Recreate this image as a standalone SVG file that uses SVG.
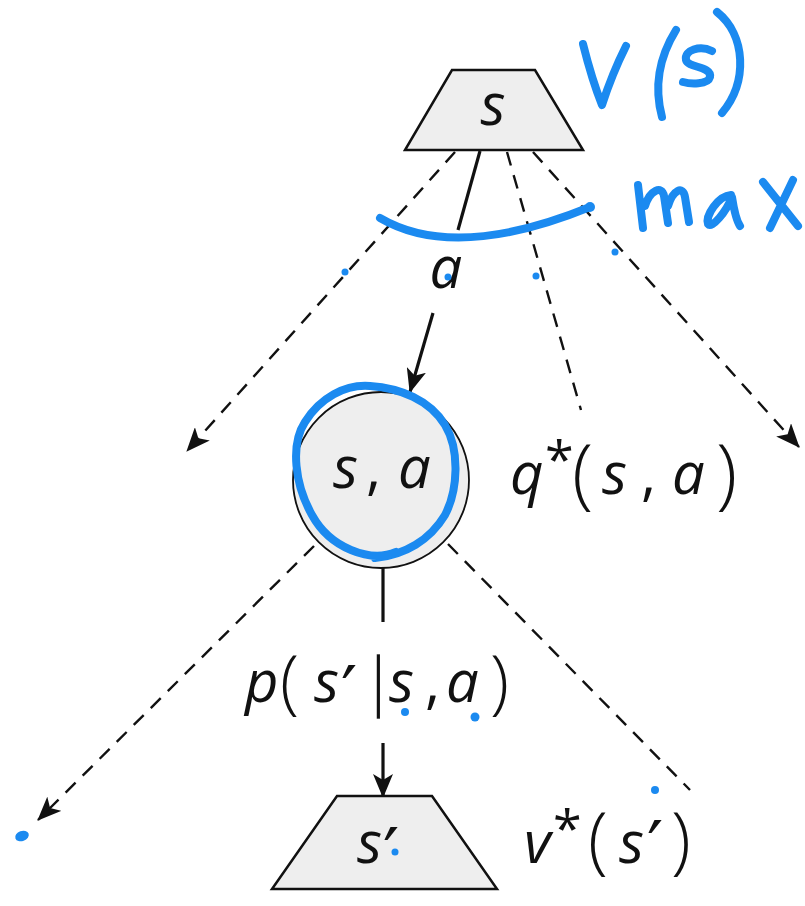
<svg xmlns="http://www.w3.org/2000/svg" width="805" height="906" viewBox="0 0 805 906">
<style>
.bg{fill:#ffffff}
.node{fill:#eeeeee;stroke:#111;stroke-width:2.5;stroke-linejoin:miter}
.circ{fill:#eeeeee;stroke:#111;stroke-width:1.8}
.dash{fill:none;stroke:#111;stroke-width:2.4;stroke-dasharray:14 10}
.solid{fill:none;stroke:#111;stroke-width:3.2}
.m{font-family:"Open Sans","Noto Sans","DejaVu Sans",sans-serif;font-style:italic;font-size:58px;fill:#111}
.up{font-style:normal}
.par{font-style:normal;font-weight:300}
.bar{font-family:"Liberation Sans",Arial,sans-serif;font-style:normal;font-size:72px;stroke:#ffffff;stroke-width:2.6}
.st{font-style:normal;font-size:52px}
.pr{font-family:"DejaVu Sans",sans-serif;font-style:normal;font-size:72px}
.ink{fill:none;stroke:#1b8af0;stroke-width:8;stroke-linecap:round;stroke-linejoin:round}
.dot{fill:#1b8af0}
</style>
<defs>
<marker id="arr" viewBox="0 0 24 20" refX="23" refY="10" markerWidth="24" markerHeight="20" markerUnits="userSpaceOnUse" orient="auto">
<path d="M0,0 L24,10 L0,20 L6,10 Z" fill="#111"/>
</marker>
</defs>
<rect class="bg" x="0" y="0" width="805" height="906"/>
<g id="connectors">
<line class="dash" x1="455" y1="152" x2="187" y2="451" marker-end="url(#arr)"/>
<line class="solid" x1="480" y1="151" x2="458" y2="230"/>
<line class="solid" x1="433" y1="313" x2="410" y2="392" marker-end="url(#arr)"/>
<line class="dash" x1="507" y1="152" x2="581" y2="410"/>
<line class="dash" x1="533" y1="152" x2="799" y2="447" marker-end="url(#arr)"/>
<line class="dash" x1="314" y1="546" x2="38" y2="820" marker-end="url(#arr)"/>
<line class="solid" x1="383" y1="568" x2="383" y2="622"/>
<line class="solid" x1="383" y1="743" x2="383" y2="797" marker-end="url(#arr)"/>
<line class="dash" x1="448" y1="544" x2="690" y2="790"/>
</g>
<g id="node-s">
<polygon class="node" points="452,70 535,70 583,150 405,150"/>
<text class="m" x="493" y="125" text-anchor="middle">s</text>
</g>
<g id="label-a">
<text class="m" x="446" y="288" text-anchor="middle">a</text>
</g>
<g id="node-sa">
<circle class="circ" cx="381" cy="480" r="88"/>
<text class="m" y="488"><tspan x="333">s</tspan><tspan class="up" x="366">,</tspan><tspan x="398">a</tspan></text>
</g>
<g id="label-q">
<text class="m" y="494"><tspan x="510">q</tspan><tspan class="st" x="545" y="478">*</tspan><tspan class="par" font-size="78" x="572" y="500">(</tspan><tspan x="602" y="494">s</tspan><tspan class="up" x="641">,</tspan><tspan x="672">a</tspan><tspan class="par" font-size="78" x="716" y="500">)</tspan></text>
</g>
<g id="label-p">
<text class="m" y="702"><tspan x="245">p</tspan><tspan class="par" font-size="70" x="280" y="706">(</tspan><tspan x="314" y="702">s</tspan><tspan class="pr" x="341" y="717">′</tspan><tspan class="bar" x="369" y="705">|</tspan><tspan x="389" y="702">s</tspan><tspan class="up" x="425">,</tspan><tspan x="446">a</tspan><tspan class="par" font-size="70" x="490" y="706">)</tspan></text>
</g>
<g id="node-s2">
<polygon class="node" points="337,796 432,796 497,889 272,889"/>
<text class="m" y="863"><tspan x="357">s</tspan><tspan class="pr" x="383" y="879">′</tspan></text>
</g>
<g id="label-v">
<text class="m" y="863"><tspan x="524">v</tspan><tspan class="st" x="553" y="847">*</tspan><tspan class="par" font-size="73" x="588" y="865">(</tspan><tspan x="619" y="863">s</tspan><tspan class="pr" x="647" y="872">′</tspan><tspan class="par" font-size="73" x="671" y="865">)</tspan></text>
</g>
<g id="annotations">
<path class="ink" d="M583,44 Q592,80 602,105 Q612,74 626,46"/>
<path class="ink" d="M676,30 Q650,72 662,117"/>
<path class="ink" d="M712,51 C700,45 684,50 686,60 C688,68 712,66 710,77 C708,85 690,84 683,82"/>
<path class="ink" d="M717,12 C746,35 748,82 722,113"/>
<path class="ink" d="M638,185 L643,228 M645,206 C650,190 662,185 664,196 L668,223 M668,206 C673,190 683,185 685,197 L689,222"/>
<path class="ink" d="M731,195 C718,196 705,216 708,224 C712,229 726,212 732,197 C734,210 736,220 740,226"/>
<path class="ink" d="M763,182 L798,226 M793,180 L770,228"/>
<path class="ink" stroke-width="7" d="M380,218 Q455,262 590,207"/>
<circle class="dot" cx="590" cy="207" r="5"/>
<path class="ink" stroke-width="6.5" d="M396,552 C370,563 330,548 312,515 C295,485 290,445 305,422 C320,398 345,384 370,386 C400,388 430,400 445,425 C460,450 458,490 445,515 C430,540 405,555 375,558"/>
<circle class="dot" cx="345" cy="272" r="3.5"/>
<circle class="dot" cx="448" cy="277" r="3.5"/>
<circle class="dot" cx="536" cy="276" r="3.5"/>
<circle class="dot" cx="615" cy="252" r="3.5"/>
<circle class="dot" cx="405" cy="712" r="4"/>
<circle class="dot" cx="475" cy="717" r="4.5"/>
<circle class="dot" cx="655" cy="790" r="4"/>
<circle class="dot" cx="395" cy="852" r="3.5"/>
<ellipse class="dot" cx="22" cy="836" rx="7" ry="5" transform="rotate(-20 22 836)"/>
</g>
</svg>
